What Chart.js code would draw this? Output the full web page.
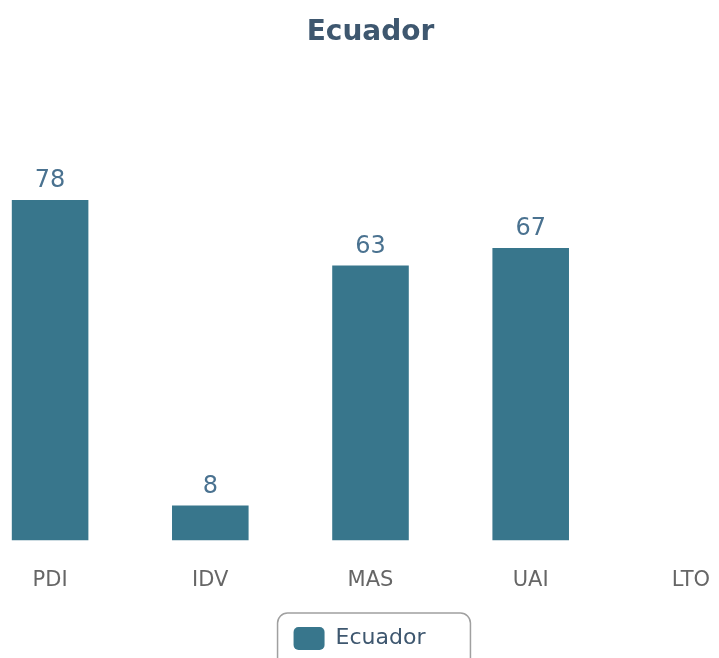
<!DOCTYPE html>
<html>
<head>
<meta charset="utf-8">
<script src="https://cdn.jsdelivr.net/npm/chart.js@4/dist/chart.umd.min.js"></script>
<style>
    html, body { margin: 0; padding: 0; overflow: hidden; background: #fff; }
    #wrap { position: absolute; left: -30px; top: 0; width: 801px; height: 660px; }
</style>
</head>
<body>
<div id="wrap"><canvas id="myChart" width="801" height="660"></canvas></div>
<script>
const categories = ['PDI', 'IDV', 'MAS', 'UAI', 'LTO'];
const seriesName = 'Ecuador';
const values = [78, 8, 63, 67, null];

// numbers above each bar
const barLabels = {
    id: 'barLabels',
    afterDatasetsDraw(chart) {
        const ctx = chart.ctx;
        ctx.save();
        ctx.font = '24px "DejaVu Sans"';
        ctx.fillStyle = '#4a7290';
        ctx.textAlign = 'center';
        ctx.textBaseline = 'alphabetic';
        chart.getDatasetMeta(0).data.forEach((bar, i) => {
            const v = chart.data.datasets[0].data[i];
            if (v === null || v === undefined) return;
            ctx.fillText(String(v), bar.x, bar.y - 13);
        });
        ctx.restore();
    }
};

// shift legend a bit and draw its rounded frame
const legendFrame = {
    id: 'legendFrame',
    afterLayout(chart) {
        chart.legend.left -= 11;
        chart.legend.right -= 11;
    },
    afterDraw(chart) {
        const box = chart.legend.legendHitBoxes[0];
        if (!box) return;
        const ctx = chart.ctx;
        const x = box.left - 16, y = box.top - 14;
        const w = box.width + 16 + 45, h = 80;
        ctx.save();
        ctx.strokeStyle = '#a0a0a0';
        ctx.lineWidth = 1.5;
        ctx.beginPath();
        ctx.roundRect(x, y, w, h, 10);
        ctx.stroke();
        ctx.restore();
    }
};

const ctx = document.getElementById('myChart');
const myChart = new Chart(ctx, {
    type: 'bar',
    data: {
        labels: categories,
        datasets: [{
            label: seriesName,
            data: values,
            backgroundColor: '#38768c',
            borderWidth: 0,
            barPercentage: 0.478,
            categoryPercentage: 1
        }]
    },
    options: {
        responsive: false,
        animation: false,
        layout: { padding: 0 },
        scales: {
            x: {
                grid: { display: false, drawTicks: false },
                border: { display: false },
                ticks: {
                    color: '#666',
                    padding: 27,
                    font: { family: 'DejaVu Sans', size: 21 }
                },
                afterFit(scale) { scale.height = 76.5; }
            },
            y: {
                display: false,
                min: 0,
                max: 100
            }
        },
        plugins: {
            title: {
                display: true,
                text: 'Ecuador',
                color: '#3e576f',
                font: { family: 'DejaVu Sans', size: 28, weight: 'bold', lineHeight: 1.2 },
                padding: { top: 16, bottom: 54.4 }
            },
            legend: {
                position: 'bottom',
                labels: {
                    color: '#3e576f',
                    font: { family: 'DejaVu Sans', size: 22 },
                    boxWidth: 31,
                    boxHeight: 23,
                    padding: 10,
                    useBorderRadius: true,
                    borderRadius: 5
                }
            },
            tooltip: { enabled: false }
        }
    },
    plugins: [barLabels, legendFrame]
});
</script>
</body>
</html>
